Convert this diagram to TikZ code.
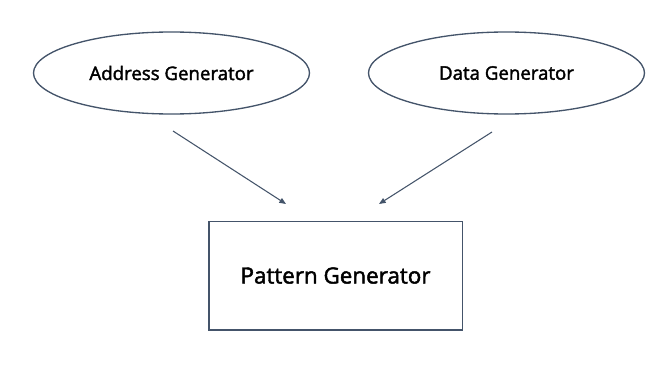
\documentclass[tikz,border=0pt]{standalone}
\usepackage{fontspec}
\setmainfont{Open Sans}
\newfontfamily\semib{Open Sans}[FakeBold=2]
\usetikzlibrary{shapes.geometric,arrows.meta}
\definecolor{linec}{HTML}{44546A}
\tikzset{
  px/.style={x=0.75pt,y=-0.75pt},
  genellipse/.style={draw=linec,line width=1pt,ellipse,inner sep=0pt,minimum width=207pt,minimum height=61.5pt,font=\semib\fontsize{14}{16}\selectfont},
  genbox/.style={draw=linec,line width=1pt,rectangle,inner sep=0pt,minimum width=190pt,minimum height=81.5pt,font=\semib\fontsize{16.8}{19}\selectfont},
  conn/.style={draw=linec,line width=0.8pt,-{Triangle[length=5pt,width=4pt]}}
}
\begin{document}
\begin{tikzpicture}[px]
\useasboundingbox (0,0) rectangle (662,371);
\node[genellipse] (addr) at (171.5,73) {Address Generator};
\node[genellipse] (data) at (506.5,73) {Data Generator};
\node[genbox] (pat) at (335.5,275.5) {Pattern Generator};
\coordinate (a1) at (173,131);
\coordinate (a2) at (286,204);
\coordinate (d1) at (492,132);
\coordinate (d2) at (379,204);
\draw[conn] (a1) -- (a2);
\draw[conn] (d1) -- (d2);
\end{tikzpicture}
\end{document}
